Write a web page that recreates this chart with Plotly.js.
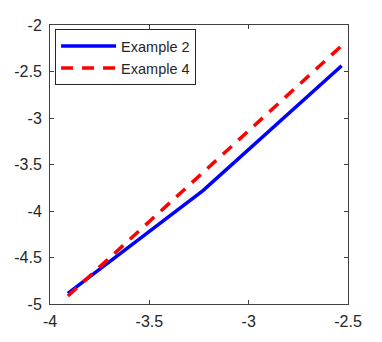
<!DOCTYPE html>
<html>
<head>
<meta charset="utf-8">
<script src="https://cdn.plot.ly/plotly-3.0.1.min.js"></script>
<style>html,body{margin:0;padding:0;background:#fff;}#chart{width:382px;height:342px;}</style>
</head>
<body>
<div id="chart"></div>
<script>
var xValues = [-3.91, -3.23, -2.532];
var example2 = [-4.885, -3.78, -2.438];
var example4 = [-4.914, -3.59, -2.223];
var seriesNames = ['Example 2', 'Example 4'];
var xTicks = [-4, -3.5, -3, -2.5];
var xTickText = ['-4', '-3.5', '-3', '-2.5'];
var yTicks = [-5, -4.5, -4, -3.5, -3, -2.5, -2];
var yTickText = ['-5', '-4.5', '-4', '-3.5', '-3', '-2.5', '-2'];

var traces = [
  {x: xValues, y: example2, name: seriesNames[0], mode: 'lines', type: 'scatter',
   line: {color: '#0000ff', width: 3.5}},
  {x: xValues, y: example4, name: seriesNames[1], mode: 'lines', type: 'scatter',
   line: {color: '#ff0000', width: 3.5, dash: '12px,9px'}}
];

var axisCommon = {
  showgrid: false, zeroline: false, showline: true, linecolor: '#404040', linewidth: 1,
  mirror: 'ticks', ticks: 'inside', ticklen: 4, tickcolor: '#404040', tickwidth: 1,
  tickfont: {family: 'Liberation Sans, Arial, sans-serif', size: 16, color: '#262626'},
  tickmode: 'array'
};

var layout = {
  width: 382, height: 342,
  margin: {l: 50, r: 34, t: 25, b: 38},
  paper_bgcolor: '#ffffff', plot_bgcolor: '#ffffff',
  showlegend: true,
  xaxis: Object.assign({}, axisCommon, {range: [-4, -2.5], tickvals: xTicks, ticktext: xTickText, ticklabelstandoff: 3}),
  yaxis: Object.assign({}, axisCommon, {range: [-5, -2], tickvals: yTicks, ticktext: yTickText, ticklabelstandoff: 4}),
  legend: {
    x: 0.017, y: 0.985, xanchor: 'left', yanchor: 'top',
    bgcolor: '#ffffff', bordercolor: '#262626', borderwidth: 1,
    font: {family: 'Liberation Sans, Arial, sans-serif', size: 14.5, color: '#262626'},
    itemwidth: 55
  }
};

Plotly.newPlot('chart', traces, layout, {staticPlot: true, displayModeBar: false});
</script>
</body>
</html>
